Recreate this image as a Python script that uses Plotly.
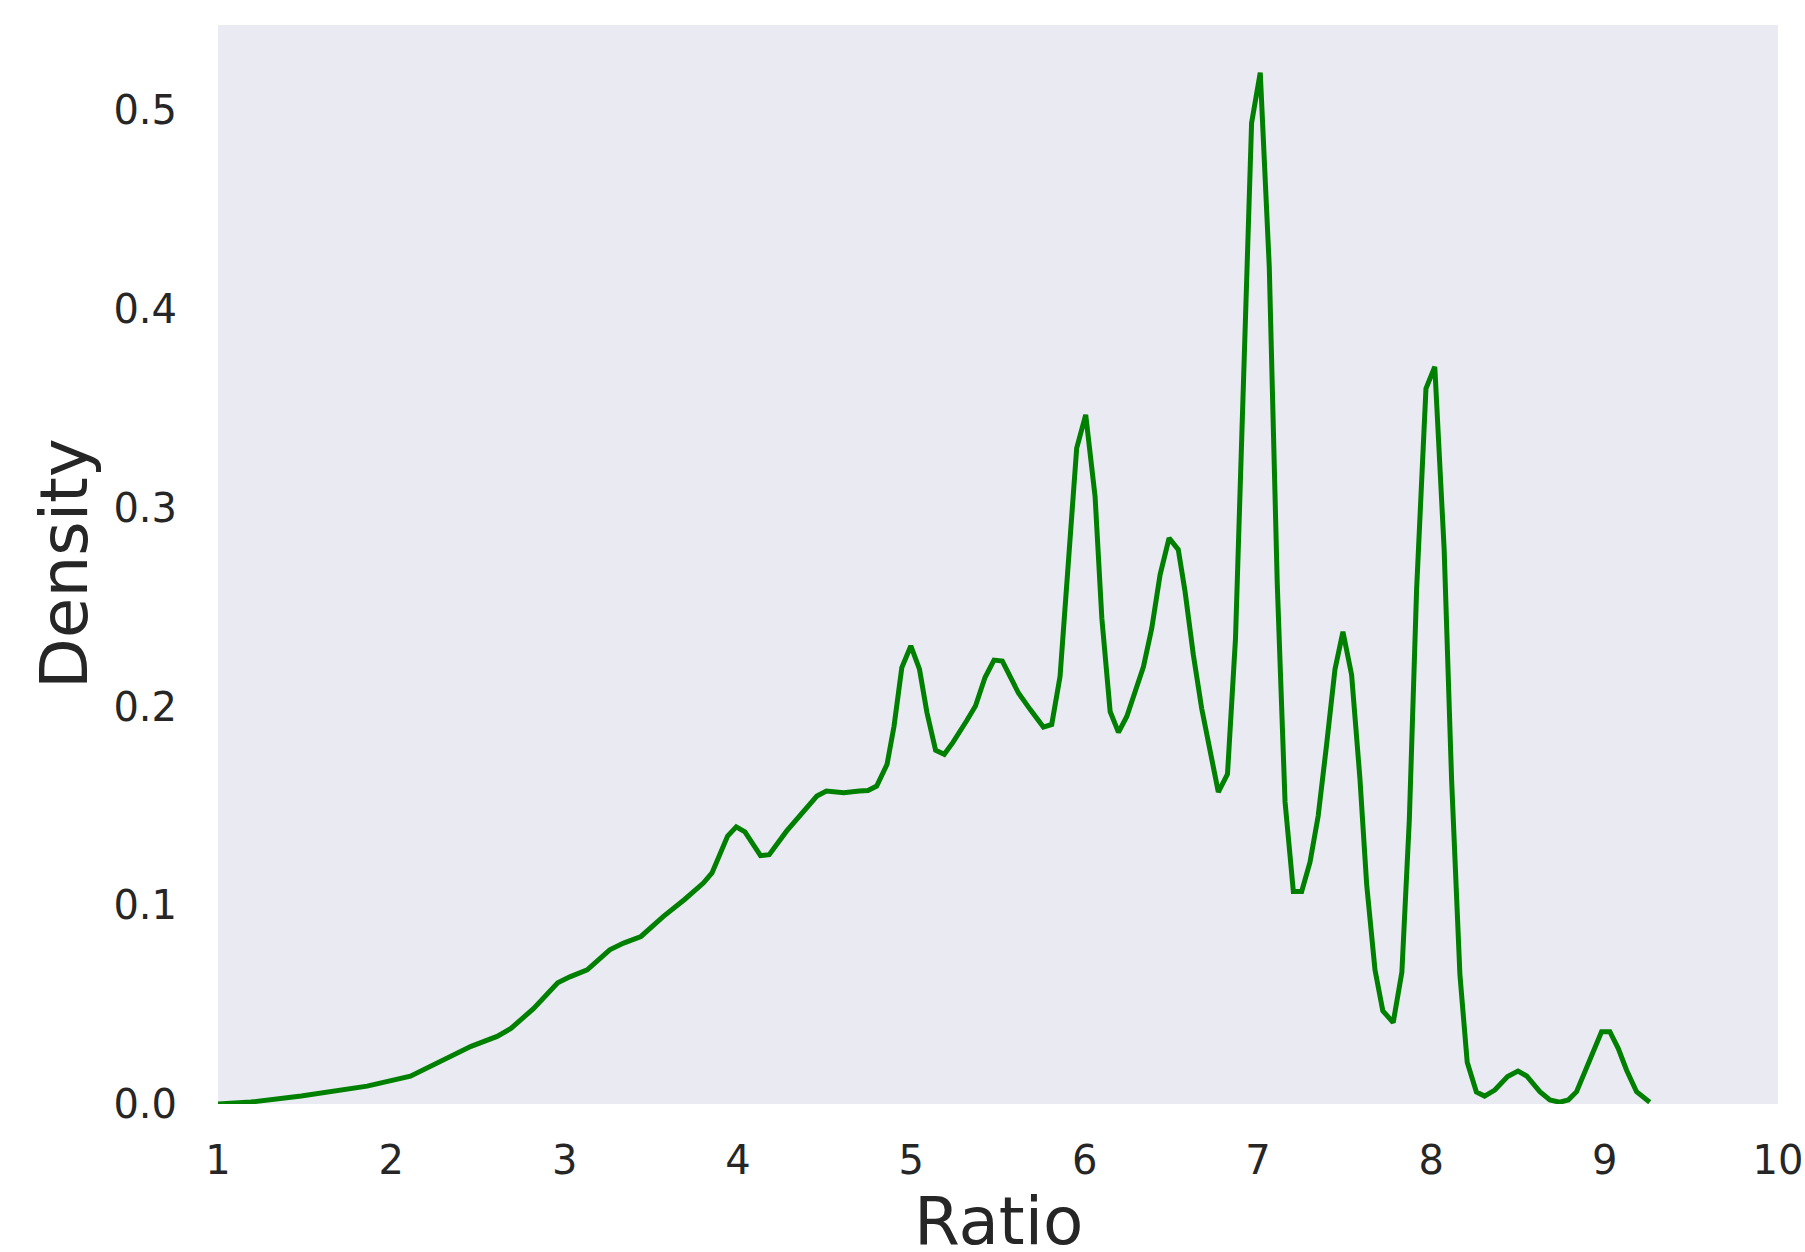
import plotly.graph_objects as go

# Density curve (Ratio vs Density)
ratio = [1.00, 1.19, 1.48, 1.67, 1.86, 2.11, 2.30, 2.46, 2.61, 2.69, 2.82, 2.96, 3.03,
         3.13, 3.26, 3.34, 3.44, 3.57, 3.69, 3.80, 3.85, 3.94, 3.99, 4.04, 4.13, 4.18,
         4.28, 4.34, 4.455, 4.51, 4.61, 4.70, 4.75, 4.80, 4.86, 4.90, 4.945, 4.997,
         5.047, 5.09, 5.14, 5.19, 5.24, 5.32, 5.37, 5.425, 5.477, 5.525, 5.618, 5.685,
         5.762, 5.81, 5.858, 5.954, 6.006, 6.060, 6.099, 6.147, 6.195, 6.243, 6.339,
         6.387, 6.435, 6.487, 6.54, 6.579, 6.627, 6.675, 6.723, 6.771, 6.824, 6.870,
         6.915, 6.963, 7.013, 7.065, 7.111, 7.156, 7.204, 7.252, 7.30, 7.347, 7.396,
         7.444, 7.49, 7.54, 7.588, 7.627, 7.675, 7.72, 7.78, 7.83, 7.873, 7.915, 7.969,
         8.02, 8.074, 8.117, 8.165, 8.207, 8.26, 8.307, 8.366, 8.44, 8.50, 8.55, 8.626,
         8.684, 8.74, 8.79, 8.838, 8.895, 8.944, 8.982, 9.03, 9.078, 9.126, 9.184, 9.26]
density = [0.000, 0.001, 0.004, 0.0066, 0.009, 0.014, 0.022, 0.029, 0.034, 0.038, 0.048,
           0.061, 0.064, 0.0675, 0.0776, 0.081, 0.0843, 0.0944, 0.1028, 0.1112, 0.1163,
           0.1348, 0.1395, 0.137, 0.125, 0.1255, 0.1373, 0.1431, 0.155, 0.1575, 0.1566,
           0.1575, 0.1578, 0.160, 0.171, 0.190, 0.2196, 0.2305, 0.2188, 0.197, 0.178,
           0.176, 0.182, 0.193, 0.2003, 0.2146, 0.2234, 0.2229, 0.2068, 0.1986, 0.1897,
           0.191, 0.2152, 0.3301, 0.3468, 0.3058, 0.2445, 0.1975, 0.187, 0.195, 0.220,
           0.2394, 0.2663, 0.2848, 0.279, 0.258, 0.226, 0.1991, 0.177, 0.157, 0.166,
           0.234, 0.36, 0.4937, 0.519, 0.4213, 0.262, 0.152, 0.107, 0.107, 0.1217,
           0.1449, 0.181, 0.2187, 0.2376, 0.216, 0.1638, 0.1104, 0.0675, 0.0469, 0.041,
           0.0663, 0.143, 0.259, 0.360, 0.371, 0.279, 0.163, 0.065, 0.021, 0.006, 0.004,
           0.007, 0.0138, 0.0166, 0.0141, 0.0062, 0.002, 0.0009, 0.002, 0.0062, 0.0188,
           0.0297, 0.0364, 0.0364, 0.028, 0.0171, 0.0062, 0.0009]

x_ticks = [1, 2, 3, 4, 5, 6, 7, 8, 9, 10]
y_ticks = [0.0, 0.1, 0.2, 0.3, 0.4, 0.5]
y_tick_text = ["0.0", "0.1", "0.2", "0.3", "0.4", "0.5"]

W, H = 1805, 1252
ML, MR, MT, MB = 218, 27, 25, 148
TXT = "#262626"
FONT = "DejaVu Sans"

fig = go.Figure()
fig.add_trace(go.Scatter(x=ratio, y=density, mode="lines",
                         line=dict(color="#008000", width=5),
                         showlegend=False, hoverinfo="skip"))

fig.update_layout(
    width=W, height=H,
    margin=dict(l=ML, r=MR, t=MT, b=MB, pad=0, autoexpand=False),
    paper_bgcolor="white", plot_bgcolor="#EAEAF2",
    font=dict(family=FONT, color=TXT),
    xaxis=dict(range=[1, 10], tickvals=x_ticks, ticktext=[str(v) for v in x_ticks],
               showgrid=False, zeroline=False, showline=False, ticks="",
               automargin=False,
               tickfont=dict(size=40, color=TXT, family=FONT),
               ticklabelstandoff=29),
    yaxis=dict(range=[0, 0.543], tickvals=y_ticks, ticktext=y_tick_text,
               showgrid=False, zeroline=False, showline=False, ticks="",
               automargin=False,
               tickfont=dict(size=40, color=TXT, family=FONT),
               ticklabelstandoff=40),
)

pw = W - ML - MR
ph = H - MT - MB

def px_to_paper_x(px):
    return (px - ML) / pw

def px_to_paper_y(py):
    return (H - MB - py) / ph

fig.add_annotation(text="Ratio", xref="paper", yref="paper",
                   x=0.5, y=px_to_paper_y(1221), xanchor="center", yanchor="middle",
                   showarrow=False, font=dict(size=66, color=TXT, family=FONT))
fig.add_annotation(text="Density", xref="paper", yref="paper",
                   x=px_to_paper_x(64), y=px_to_paper_y(564), xanchor="center",
                   yanchor="middle", textangle=-90,
                   showarrow=False, font=dict(size=66, color=TXT, family=FONT))
# partially visible label at far left edge of the original image
fig.add_annotation(text="0", xref="paper", yref="paper",
                   x=px_to_paper_x(3), y=px_to_paper_y(1159), xanchor="right",
                   yanchor="middle", showarrow=False,
                   font=dict(size=40, color=TXT, family=FONT))

fig.write_html("out.html", config={"displayModeBar": False},
               post_script="document.body.style.margin='0';document.body.style.overflow='hidden';")
